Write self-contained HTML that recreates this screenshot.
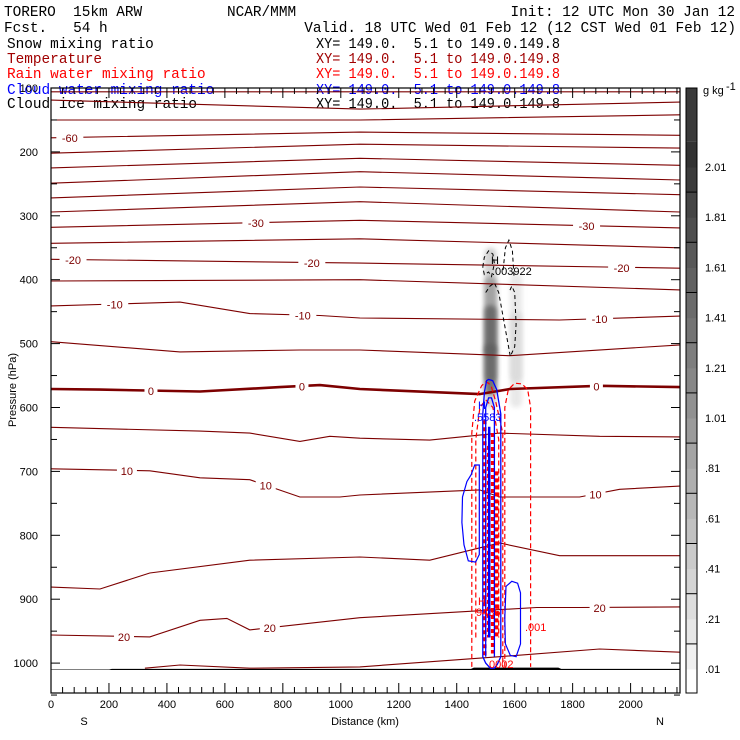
<!DOCTYPE html>
<html><head><meta charset="utf-8">
<style>
html,body{margin:0;padding:0;background:#fff;}
#wrap{position:relative;width:740px;height:740px;overflow:hidden;background:#fff;}
svg{position:absolute;left:0;top:0;}
.hd{font-family:"Liberation Mono",monospace;font-size:14.4px;}
.ax{font-family:"Liberation Sans",sans-serif;font-size:11px;}
</style></head>
<body>
<div id="wrap">
<svg id="chart" width="740" height="740" viewBox="0 0 740 740">
<defs>
<filter id="blur" x="-100%" y="-20%" width="300%" height="140%"><feGaussianBlur stdDeviation="2.5"/></filter>
<clipPath id="plotclip"><rect x="51" y="88" width="629" height="582"/></clipPath>
</defs>
<g class="hd">
<text x="4" y="16">TORERO&#160;&#160;15km ARW</text>
<text x="227" y="16">NCAR/MMM</text>
<text x="735" y="16" text-anchor="end">Init: 12 UTC Mon 30 Jan 12</text>
<text x="4" y="32">Fcst.&#160;&#160;&#160;54 h</text>
<text x="736" y="32" text-anchor="end">Valid. 18 UTC Wed 01 Feb 12 (12 CST Wed 01 Feb 12)</text>
<text x="7" y="48" fill="#000">Snow mixing ratio</text>
<text x="316" y="48" fill="#000" textLength="244" lengthAdjust="spacingAndGlyphs">XY= 149.0.&#160;&#160;5.1 to 149.0.149.8</text>
<text x="7" y="63" fill="#a00000">Temperature</text>
<text x="316" y="63" fill="#a00000" textLength="244" lengthAdjust="spacingAndGlyphs">XY= 149.0.&#160;&#160;5.1 to 149.0.149.8</text>
<text x="7" y="78" fill="#ff0000">Rain water mixing ratio</text>
<text x="316" y="78" fill="#ff0000" textLength="244" lengthAdjust="spacingAndGlyphs">XY= 149.0.&#160;&#160;5.1 to 149.0.149.8</text>
<text x="7" y="94" fill="#0000ff">Cloud water mixing ratio</text>
<text x="316" y="94" fill="#0000ff" textLength="244" lengthAdjust="spacingAndGlyphs">XY= 149.0.&#160;&#160;5.1 to 149.0.149.8</text>
<text x="7" y="108" fill="#000">Cloud ice mixing ratio</text>
<text x="316" y="108" fill="#000" textLength="244" lengthAdjust="spacingAndGlyphs">XY= 149.0.&#160;&#160;5.1 to 149.0.149.8</text>
</g>
<g id="snow" clip-path="url(#plotclip)"></g>
<g id="temps" clip-path="url(#plotclip)"></g>
<g id="storm" clip-path="url(#plotclip)"></g>
<g id="axes"></g>
<g id="cbar"></g>
<text x="16" y="390" transform="rotate(-90 16 390)" text-anchor="middle" class="ax" font-size="12">Pressure (hPa)</text>
<text x="365" y="725" text-anchor="middle" class="ax" font-size="12">Distance (km)</text>
<text x="84" y="725" text-anchor="middle" class="ax" font-size="12">S</text>
<text x="660" y="725" text-anchor="middle" class="ax" font-size="12">N</text>
</svg>
</div>
<script>
// ---- data ----
const tempLevels = [-75,-70,-65,-60,-55,-50,-45,-40,-35,-30,-25,-20,-15,-10,-5,0,5,10,15,20,25];
const tempKm = [
 [0,1066,2170],[0,1066,2170],[0,1066,2170],[0,1066,2170],[0,1066,2170],[0,1066,2170],[0,1066,2170],
 [0,1066,2170],[0,1066,2170],[0,1066,2170],[0,1066,2170],[0,1066,2170],[0,1066,2170],
 [0,445,686,928,1066,1755,2170],
 [0,445,859,1066,1583,2170],
 [0,169,514,790,928,1066,1479,1583,1893,2170],
 [0,514,686,859,962,1066,1307,1548,1893,2170],
 [0,341,514,686,859,997,1066,1479,1548,1824,1962,2170],
 [0,169,341,686,1066,1307,1548,1755,2170],
 [0,341,514,607,686,1066,1676,1824,2170],
 [324,445,686,1066,1548,1893,2170]
];
const tempP = [
 [106,106,106],[119,133,122],[150,150,142],[178,169,174],[202,188,194],[225,210,221],[249,231,244],
 [272,255,267],[294,278,294],[318,307,319],[343,336,350],[368,374,382],[402,400,416],
 [441,435,453,456,460,463,457],
 [497,513,510,510,519,502],
 [571,572,575,568,565,571,579,571,566,568],
 [631,637,640,653,645,648,651,640,645,646],
 [696,699,710,713,740,740,737,729,740,740,728,723],
 [881,884,859,839,834,839,812,832,832],
 [956,959,933,930,948,929,913,913,912],
 [1008,1003,1008,1006,990,978,983]
];
const labelTemps = [-60,-30,-30,-20,-20,-20,-10,-10,-10,0,0,0,10,10,10,20,20,20];
const labelKm    = [65,707,1848,76,900,1969,220,869,1893,345,866,1882,262,741,1879,252,755,1893];

const yTicks = [100,200,300,400,500,600,700,800,900,1000];
const xTicks = [0,200,400,600,800,1000,1200,1400,1600,1800,2000];
const cbarLabels = ['.01','.21','.41','.61','.81','1.01','1.21','1.41','1.61','1.81','2.01'];
const cbarValues = [0.01,0.21,0.41,0.61,0.81,1.01,1.21,1.41,1.61,1.81,2.01];

const snowKm  = [1517,1517,1517,1517,1605,1605];
const snowP1  = [350,395,440,500,390,450];
const snowP2  = [600,560,520,580,600,560];
const snowVal = [0.5,1.0,1.6,1.6,0.2,0.3];

const groundKm = [0,200,210,1450,1460,1750,1760,2170];
const groundP  = [1012,1012,1011,1011,1009,1009,1011,1011];

const rainOuterKm=[1452,1452,1462,1486,1500,1510,1520,1534,1559,1559];
const rainOuterP =[1006,640,590,566,560,562,568,590,640,1006];
const rainRightKm=[1566,1566,1578,1600,1625,1645,1655,1655];
const rainRightP =[1006,600,572,562,563,572,600,1006];
const rainInnerKm=[1466,1466,1480,1500,1525,1545,1545];
const rainInnerP =[960,650,600,588,600,650,960];
const rainCoreKm=[1497,1510,1524,1538];
const rainCoreP1=[620,660,640,700];
const rainCoreP2=[990,960,985,960];
const cwMainKm=[1490,1490,1496,1503,1510,1524,1538,1552,1552,1540,1530,1516,1500,1490];
const cwMainP =[990,610,575,558,556,558,572,610,990,1002,1008,1008,1000,990];
const cwLeftKm=[1418,1420,1435,1450,1462,1478,1478,1465,1440,1425,1418];
const cwLeftP =[780,740,716,705,690,690,830,842,840,815,780];
const cwRightKm=[1566,1570,1590,1610,1620,1620,1605,1585,1568,1566];
const cwRightP =[930,880,872,875,890,970,990,988,970,930];
const iceAKm=[1490,1495,1510,1525,1530,1520,1510,1495,1490];
const iceAP =[380,365,355,360,375,395,388,392,380];
const iceBKm=[1560,1568,1580,1592,1598];
const iceBP =[385,350,338,355,398];
const iceCKm=[1500,1515,1530,1545,1565,1585,1600,1605,1600,1590,1580];
const iceCP =[420,410,405,420,470,520,505,470,420,410,420];

// ---- axes ----
const X = km => 51 + km*0.2898;
const Y = p => 88 + (p-100)*0.639;
const NS='http://www.w3.org/2000/svg';
function mk(tag,attrs,parent){const e=document.createElementNS(NS,tag);for(const k in attrs)e.setAttribute(k,attrs[k]);parent.appendChild(e);return e;}
function pts(kms,ps){return kms.map((k,i)=>X(k).toFixed(1)+','+Y(ps[i]).toFixed(1)).join(' ');}
function cval(v){
  const t=Math.max(0,Math.min(1,(v-0.01)/2.1));
  const g=Math.round(245-t*200);return 'rgb('+g+','+g+','+g+')';
}

// snow
const sg=document.getElementById('snow');
for(let i=0;i<snowKm.length;i++){
  const w=12;
  const r=mk('rect',{x:X(snowKm[i])-w/2,y:Y(snowP1[i]),width:w,height:Y(snowP2[i])-Y(snowP1[i]),rx:6,fill:cval(snowVal[i]),opacity:0.8,filter:'url(#blur)'},sg);
  
  
}

// temperature
const tg=document.getElementById('temps');
function interpP(idx,km){const ks=tempKm[idx],ps=tempP[idx];
  for(let j=0;j<ks.length-1;j++){if(km>=ks[j]&&km<=ks[j+1]){const f=(km-ks[j])/(ks[j+1]-ks[j]);return ps[j]+f*(ps[j+1]-ps[j]);}}
  return ps[ps.length-1];}
for(let i=0;i<tempLevels.length;i++){
  const pl=mk('polyline',{points:pts(tempKm[i],tempP[i]),fill:'none',stroke:'#7d0000','stroke-width':tempLevels[i]===0?2.6:1.1},tg);
  
  
}
for(let i=0;i<labelTemps.length;i++){
  const idx=tempLevels.indexOf(labelTemps[i]);
  const x=X(labelKm[i]),y=Y(interpP(idx,labelKm[i]));
  const txt=String(labelTemps[i]);const w=txt.length*7+6;
  const bg=mk('rect',{x:x-w/2,y:y-6,width:w,height:12,fill:'#fff'},tg);
  
  
  const t=mk('text',{x:x,y:y+4.5,'text-anchor':'middle',fill:'#7d0000',class:'ax','font-size':'12'},tg);
  t.textContent=txt;
  
  
}
const gl=mk('polyline',{points:pts(groundKm,groundP),fill:'none',stroke:'#000','stroke-width':2.5},tg);



// storm contours
const st=document.getElementById('storm');
function poly(kms,ps,stroke,dash,w,name,closed){
  const e=mk(closed?'polygon':'polyline',{points:pts(kms,ps),fill:'none',stroke:stroke,'stroke-width':w},st);
  if(dash)e.setAttribute('stroke-dasharray',dash);
  
  
}
poly(rainOuterKm,rainOuterP,'#ff0000','5,3',1.2,'rain-contour-outer',false);
poly(rainRightKm,rainRightP,'#ff0000','5,3',1.2,'rain-contour-right',false);
poly(rainInnerKm,rainInnerP,'#ff0000','5,3',1.2,'rain-contour-inner',false);
for(let i=0;i<rainCoreKm.length;i++){
  const l=mk('line',{x1:X(rainCoreKm[i]),x2:X(rainCoreKm[i]),y1:Y(rainCoreP1[i]),y2:Y(rainCoreP2[i]),stroke:'#ff0000','stroke-width':3.5,'stroke-dasharray':'4,3'},st);
  
  
}
poly(cwMainKm,cwMainP,'#0000ff',null,1.3,'cloud-water-main',true);
poly([1500,1500,1510,1520,1530,1530],[990,600,585,585,600,990],'#0000ff',null,1.3,'cloud-water-inner',false);
poly([1512,1512],[630,960],'#0000ff',null,2.5,'cloud-water-core',false);
poly(cwLeftKm,cwLeftP,'#0000ff',null,1.2,'cloud-water-left',true);
poly(cwRightKm,cwRightP,'#0000ff',null,1.2,'cloud-water-right',true);
poly(iceAKm,iceAP,'#000','4,3',1,'cloud-ice-a',false);
poly(iceBKm,iceBP,'#000','4,3',1,'cloud-ice-b',false);
poly(iceCKm,iceCP,'#000','4,3',1,'cloud-ice-c',false);
function lbl(x,y,txt,fill,name){const t=mk('text',{x:x,y:y,fill:fill,class:'ax','font-size':'11'},st);t.textContent=txt;}
lbl(491,264,'H','#000','ice-max-marker');
lbl(492,275,'.003922','#000','ice-max-value');
lbl(478,409,'H','#0000ff','cloud-water-max-marker');
lbl(474,421,'.5583','#0000ff','cloud-water-max-value');
lbl(478,605,'H','#ff0000','rain-max-marker');
lbl(476,616,'9435','#ff0000','rain-max-value');
lbl(525,631,'.001','#ff0000','rain-contour-label');
lbl(489,668,'0002','#ff0000','rain-min-label');

// axes
const ag=document.getElementById('axes');
const fr=mk('rect',{x:51,y:88,width:629,height:605,fill:'none',stroke:'#000','stroke-width':1.2},ag);

for(let p=100;p<=1050;p+=50){
  const len=(p%100===0)?9:6;
  const a=mk('line',{x1:51,x2:51+len,y1:Y(p),y2:Y(p),stroke:'#000'},ag);
  
  const b=mk('line',{x1:680,x2:680-len,y1:Y(p),y2:Y(p),stroke:'#000'},ag);
  
}
yTicks.forEach(p=>{const t=mk('text',{x:38,y:Y(p)+4,'text-anchor':'end',class:'ax'},ag);t.textContent=p;
  });
for(let k=0;k<=2160;k+=40){
  const len=(k%200===0)?10:6;
  const a=mk('line',{x1:X(k),x2:X(k),y1:693,y2:693-len,stroke:'#000'},ag);
  
  const b=mk('line',{x1:X(k),x2:X(k),y1:88,y2:88+len,stroke:'#000'},ag);
  
}
xTicks.forEach(k=>{const t=mk('text',{x:X(k),y:708,'text-anchor':'middle',class:'ax'},ag);t.textContent=k;
  });

// colorbar
const cb=document.getElementById('cbar');
const cbTopY=88,cbBotY=693;
const cy=v=>669-(v-0.01)*(669-167)/2.0;
for(let v=-0.09;v<2.11;v+=0.1){
  const y1=Math.max(cbTopY,cy(v+0.1)),y2=Math.min(cbBotY,cy(v));
  const r=mk('rect',{x:686,y:y1,width:11,height:Math.max(0,y2-y1+0.5),fill:v<0.01?'#fff':cval(v+0.05)},cb);
  
}
const cbTopBin=mk('rect',{x:686,y:cbTopY,width:11,height:Math.max(0,cy(2.11)-cbTopY),fill:'#3a3a3a'},cb);


const cf=mk('rect',{x:686,y:cbTopY,width:11,height:cbBotY-cbTopY,fill:'none',stroke:'#000'},cb);

for(let v=0.11;v<2.1;v+=0.2){const l=mk('line',{x1:686,x2:697,y1:cy(v),y2:cy(v),stroke:'#000'},cb);
  }
cbarLabels.forEach((s,i)=>{const t=mk('text',{x:705,y:cy(cbarValues[i])+4,class:'ax','font-size':'10'},cb);t.textContent=s;
  });
const u=mk('text',{x:703,y:94,class:'ax','font-size':'9'},cb);u.textContent='g kg';

const u2=mk('text',{x:726,y:90,class:'ax','font-size':'7'},cb);u2.textContent='-1';

</script>
</body></html>
